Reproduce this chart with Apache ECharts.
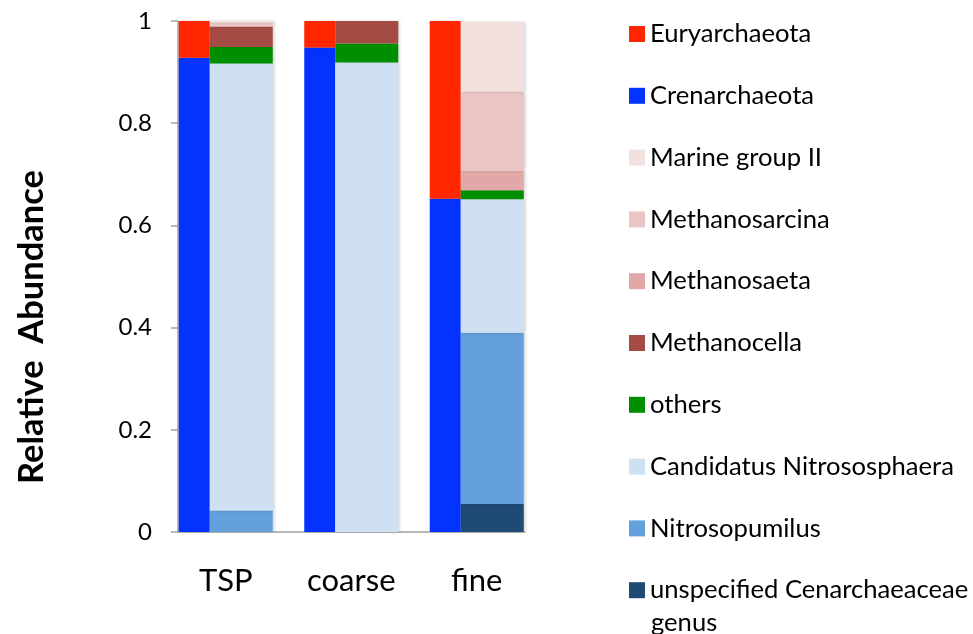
<!DOCTYPE html>
<html>
<head>
<meta charset="utf-8">
<script src="https://cdn.jsdelivr.net/npm/echarts@6/dist/echarts.min.js"></script>
<style>html,body{margin:0;padding:0;background:#fff;}#chart{width:973px;height:634px;}</style>
</head>
<body>
<div id="chart"></div>
<script>
var categories = ['TSP', 'coarse', 'fine'];
var yTicks = [0, 0.2, 0.4, 0.6, 0.8, 1];
// phylum-level (left, narrow bar)
var euryarchaeota = [0.072, 0.052, 0.348];
var crenarchaeota = [0.928, 0.948, 0.652];
// genus-level (right, wide bar)
var marineGroupII = [0.003, 0, 0.137];
var methanosarcina = [0.008, 0, 0.155];
var methanosaeta = [0, 0, 0.038];
var methanocella = [0.040, 0.044, 0];
var others = [0.032, 0.037, 0.018];
var candidatusNitrososphaera = [0.875, 0.919, 0.261];
var nitrosopumilus = [0.042, 0, 0.335];
var unspecifiedCenarchaeaceae = [0, 0, 0.055];

var legendOrder = ['Euryarchaeota', 'Crenarchaeota', 'Marine group II', 'Methanosarcina', 'Methanosaeta',
  'Methanocella', 'others', 'Candidatus Nitrososphaera', 'Nitrosopumilus', 'unspecified Cenarchaeaceae genus'];

var FONT = 'Lato';
var chart = echarts.init(document.getElementById('chart'), null, {renderer: 'canvas'});

function bar(name, data, color, stack, width) {
  return {
    name: name, type: 'bar', stack: stack, data: data, barWidth: width, barGap: '0%',
    xAxisIndex: 0, yAxisIndex: 0,
    itemStyle: {color: color, shadowColor: 'rgba(0,0,0,0.18)', shadowBlur: 3, shadowOffsetX: 2},
    emphasis: {disabled: true}, animation: false
  };
}

var series = [
  bar('Crenarchaeota', crenarchaeota, '#0433FF', 'phylum', 31),
  bar('Euryarchaeota', euryarchaeota, '#FF2600', 'phylum', 31),
  bar('unspecified Cenarchaeaceae genus', unspecifiedCenarchaeaceae, '#1F4A73', 'genus', 63),
  bar('Nitrosopumilus', nitrosopumilus, '#64A0DC', 'genus', 63),
  bar('Candidatus Nitrososphaera', candidatusNitrososphaera, '#CFE0F2', 'genus', 63),
  bar('others', others, '#008F00', 'genus', 63),
  bar('Methanocella', methanocella, '#A54B46', 'genus', 63),
  bar('Methanosaeta', methanosaeta, '#E2A8A7', 'genus', 63),
  bar('Methanosarcina', methanosarcina, '#EAC5C5', 'genus', 63),
  bar('Marine group II', marineGroupII, '#F3E1E0', 'genus', 63)
];

var option = {
  backgroundColor: '#fff',
  animation: false,
  grid: [
    {left: 163, width: 376.5, top: 21, bottom: 102, containLabel: false},
    {left: 178, width: 347, top: 21, bottom: 102, containLabel: false}
  ],
  xAxis: [
    {
      type: 'category', gridIndex: 0, data: categories,
      axisLine: {show: false}, axisTick: {show: false},
      axisLabel: {color: '#000', fontFamily: FONT, fontSize: 31, margin: 33}
    },
    {
      type: 'category', gridIndex: 1, data: categories,
      axisLine: {show: true, lineStyle: {color: '#A0A0A0', width: 1.5}},
      axisTick: {show: false}, axisLabel: {show: false}
    }
  ],
  yAxis: [
    {type: 'value', gridIndex: 0, min: 0, max: 1, show: false, splitLine: {show: false}},
    {
      type: 'value', gridIndex: 1, min: 0, max: 1, interval: 0.2,
      axisLine: {show: true, lineStyle: {color: '#A0A0A0', width: 1.5}},
      axisTick: {show: true, length: 7, lineStyle: {color: '#A0A0A0', width: 1.5}},
      splitLine: {show: false},
      axisLabel: {
        color: '#000', fontFamily: FONT, fontSize: 24, margin: 26,
        formatter: function (v) {
          for (var i = 0; i < yTicks.length; i++) {
            if (Math.abs(yTicks[i] - v) < 1e-9) return String(yTicks[i]);
          }
          return '';
        }
      }
    }
  ],
  legend: {
    orient: 'vertical', left: 629, top: 18, padding: 0,
    itemWidth: 16, itemHeight: 16, itemGap: 29.8, itemTextGap: 6,
    icon: 'rect', selectedMode: false,
    data: legendOrder,
    textStyle: {color: '#000', fontFamily: FONT, fontSize: 25.6, lineHeight: 32},
    formatter: function (name) {
      return name === 'unspecified Cenarchaeaceae genus' ? 'unspecified Cenarchaeaceae' : name;
    }
  },
  graphic: [
    {
      type: 'text', x: 32, y: 327, rotation: Math.PI / 2,
      style: {text: 'Relative  Abundance', fill: '#000', font: 'bold 34.5px Lato', align: 'center', verticalAlign: 'middle'}
    },
    {
      type: 'text', x: 651, y: 623,
      style: {text: 'genus', fill: '#000', font: '25.6px Lato', align: 'left', verticalAlign: 'middle'}
    }
  ],
  series: series
};
chart.setOption(option);
</script>
</body>
</html>
